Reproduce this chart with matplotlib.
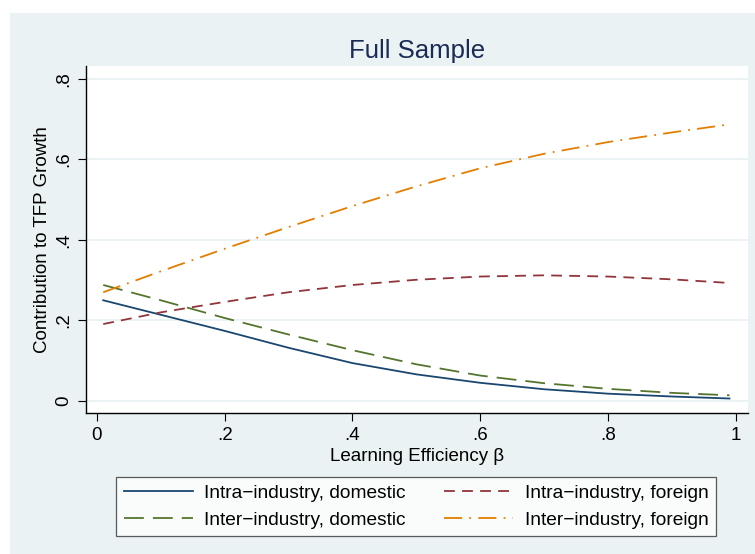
import matplotlib.pyplot as plt
from matplotlib.patches import Rectangle

# Learning efficiency grid and the four contribution curves
beta = [0.01, 0.1, 0.2, 0.3, 0.4, 0.5, 0.6, 0.7, 0.8, 0.9, 0.99]
intra_dom = [0.250, 0.214, 0.174, 0.132, 0.094, 0.066, 0.045, 0.029, 0.018, 0.011, 0.006]
inter_dom = [0.288, 0.250, 0.206, 0.165, 0.126, 0.091, 0.063, 0.044, 0.030, 0.020, 0.014]
intra_for = [0.191, 0.220, 0.246, 0.270, 0.288, 0.301, 0.309, 0.312, 0.309, 0.302, 0.293]
inter_for = [0.270, 0.322, 0.378, 0.432, 0.484, 0.533, 0.578, 0.614, 0.643, 0.667, 0.687]

x_ticks = [0, 0.2, 0.4, 0.6, 0.8, 1]
x_ticklabels = ["0", ".2", ".4", ".6", ".8", "1"]
y_ticks = [0, 0.2, 0.4, 0.6, 0.8]
y_ticklabels = ["0", ".2", ".4", ".6", ".8"]

BG = "#EAF2F3"
plt.rcParams["font.family"] = ["Liberation Sans", "DejaVu Sans"]

W, H = 755, 554
fig = plt.figure(figsize=(W / 100, H / 100), dpi=100)
fig.patch.set_facecolor("white")
# Stata-style light background panel (drawn beneath the axes)
fig.patches.append(Rectangle((10 / W, 0), 1 - 10 / W, 1 - 13 / H,
                             transform=fig.transFigure, facecolor=BG,
                             edgecolor="none", zorder=-10))

ax = fig.add_axes([86 / W, 1 - 413 / H, (748 - 86) / W, (413 - 66) / H])
ax.set_facecolor("white")

ax.plot(beta, intra_dom, color="#1A476F", lw=1.3, ls="-",
        label="Intra\u2212industry, domestic")
ax.plot(beta, inter_dom, color="#55752F", lw=1.3, ls=(0, (11, 5)),
        label="Inter\u2212industry, domestic")
ax.plot(beta, intra_for, color="#90353B", lw=1.3, ls=(0, (6, 4)),
        label="Intra\u2212industry, foreign")
ax.plot(beta, inter_for, color="#E37E00", lw=1.3, ls=(0, (10, 4, 1, 4)),
        label="Inter\u2212industry, foreign")

ax.set_xlim(-0.017, 1.019)
ax.set_ylim(-0.03, 0.832)
ax.set_xticks(x_ticks)
ax.set_xticklabels(x_ticklabels)
ax.set_yticks(y_ticks)
ax.set_yticklabels(y_ticklabels, rotation=90, va="center")
for y in y_ticks:
    ax.axhline(y, color=BG, lw=1.3, zorder=0)

for s in ["top", "right"]:
    ax.spines[s].set_visible(False)
for s in ["left", "bottom"]:
    ax.spines[s].set_color("black")
    ax.spines[s].set_linewidth(1.0)
ax.tick_params(direction="out", length=6, width=0.8, colors="black",
               labelsize=13.5, pad=4)

ax.set_xlabel("Learning Efficiency \u03b2", fontsize=13.5, labelpad=3)
ax.set_ylabel("Contribution to TFP Growth", fontsize=13.5, labelpad=3)
ax.set_title("Full Sample", fontsize=18.5, color="#1A2B55", pad=6)

h, l = ax.get_legend_handles_labels()
leg = fig.legend(h, l, ncol=2, loc="center",
                 bbox_to_anchor=(416 / W, 1 - 506.5 / H),
                 fontsize=13.8, frameon=True, fancybox=False,
                 handlelength=3.6, columnspacing=2.0, labelspacing=0.5,
                 borderpad=0.4, handletextpad=0.6, borderaxespad=0)
leg.get_frame().set_edgecolor("#333333")
leg.get_frame().set_linewidth(0.9)

fig.savefig("out.png", dpi=100, facecolor=fig.get_facecolor())
